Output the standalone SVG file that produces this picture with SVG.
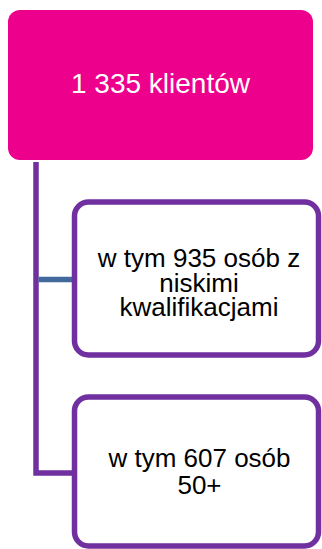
<svg xmlns="http://www.w3.org/2000/svg" width="322" height="549" viewBox="0 0 322 549">
<style>
.child rect{fill:#ffffff;stroke:#7030A0;stroke-width:5.5}
.t{font-family:"Liberation Sans",Arial,sans-serif;text-anchor:middle}
.ct{font-size:26px;fill:#000000}
.conn{fill:none;stroke-linejoin:miter}
</style>
<rect width="322" height="549" fill="#ffffff"/>
<g id="connectors">
<path class="conn" d="M36,162 V473 H74" stroke="#7030A0" stroke-width="5.5"/>
<path class="conn" d="M38.5,279.5 H72" stroke="#41699B" stroke-width="5.5"/>
</g>
<g id="root">
<rect x="8" y="10" width="305" height="150" rx="12" fill="#EC008C"/>
<text class="t" x="160.5" y="93" font-size="28" fill="#ffffff">1 335 klientów</text>
</g>
<g id="child1" class="child">
<rect x="74.5" y="202" width="244" height="153" rx="14"/>
<text class="t ct" x="199" y="267">w tym 935 osób z</text>
<text class="t ct" x="199" y="291.5">niskimi</text>
<text class="t ct" x="199" y="316">kwalifikacjami</text>
</g>
<g id="child2" class="child">
<rect x="74.5" y="397" width="244" height="149" rx="14"/>
<text class="t ct" x="199.5" y="467">w tym 607 osób</text>
<text class="t ct" x="199.5" y="494">50+</text>
</g>
</svg>
